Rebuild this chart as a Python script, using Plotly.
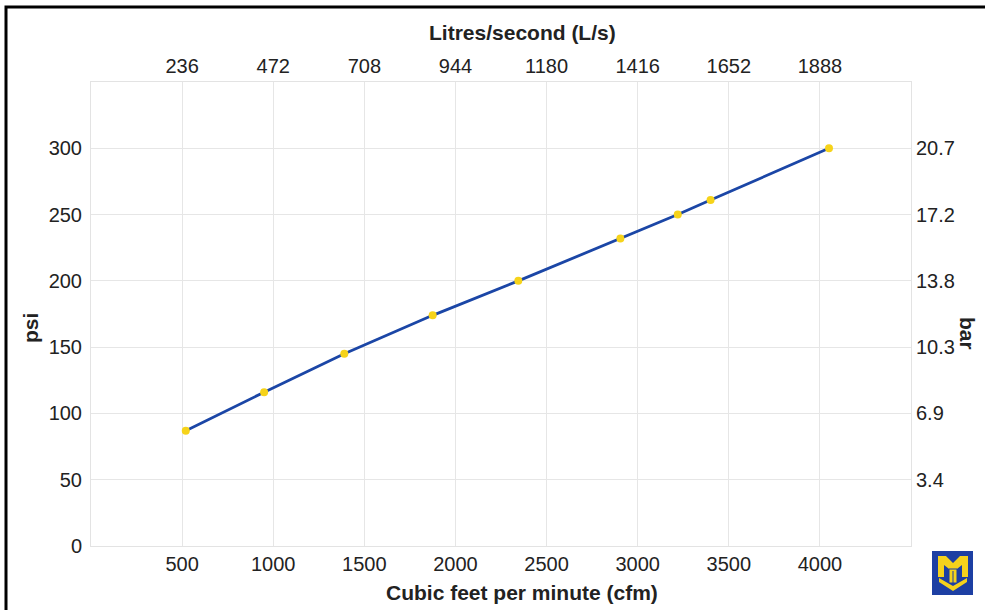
import plotly.graph_objects as go

# Air flow vs. pressure
cfm = [520, 950, 1390, 1875, 2345, 2905, 3220, 3400, 4050]
psi = [87, 116, 145, 174, 200, 232, 250, 261, 300]

# Axis ticks
cfm_ticks = [500, 1000, 1500, 2000, 2500, 3000, 3500, 4000]
ls_labels = ["236", "472", "708", "944", "1180", "1416", "1652", "1888"]
psi_ticks = [0, 50, 100, 150, 200, 250, 300]
bar_ticks = [50, 100, 150, 200, 250, 300]
bar_labels = ["3.4", "6.9", "10.3", "13.8", "17.2", "20.7"]

W, H = 985, 610
L, R, T, B = 91, 911, 82, 546
PW, PH = R - L, B - T

FONT = "Liberation Sans, Arial, sans-serif"
TXT = "#222222"
GRID = "#e6e6e6"


def px(x):
    return (x - L) / PW


def py(y):
    return (B - y) / PH


def path(points):
    return "M " + " L ".join(f"{px(x):.5f},{py(y):.5f}" for x, y in points) + " Z"


fig = go.Figure()
fig.add_trace(go.Scatter(
    x=cfm, y=psi, mode="lines+markers",
    line=dict(color="#1b46a6", width=2.8),
    marker=dict(color="#f6d31a", size=8, line=dict(width=0)),
    hoverinfo="x+y", showlegend=False,
))
# carrier trace so the top and right axes are drawn
fig.add_trace(go.Scatter(
    x=[cfm[0]], y=[psi[0]], xaxis="x2", yaxis="y2", mode="markers",
    marker=dict(opacity=0), hoverinfo="skip", showlegend=False,
))

tick_font = dict(family=FONT, size=20, color=TXT)
axis_common = dict(showline=True, linecolor="#e3e3e3", linewidth=1,
                   ticks="", zeroline=False, tickfont=tick_font)

fig.update_layout(
    width=W, height=H,
    margin=dict(l=L, r=W - R, t=T, b=H - B, pad=0),
    paper_bgcolor="white", plot_bgcolor="white",
    xaxis=dict(range=[0, 4500], tickvals=cfm_ticks, showgrid=True,
               gridcolor=GRID, gridwidth=1, **axis_common),
    xaxis2=dict(range=[0, 4500], overlaying="x", side="top", matches="x",
                tickvals=cfm_ticks, ticktext=ls_labels, showgrid=False,
                **axis_common),
    yaxis=dict(range=[0, 350], tickvals=psi_ticks, showgrid=True,
               gridcolor=GRID, gridwidth=1, ticklabelstandoff=4,
               **axis_common),
    yaxis2=dict(range=[0, 350], overlaying="y", side="right", matches="y",
                tickvals=bar_ticks, ticktext=bar_labels, showgrid=False,
                ticklabelstandoff=0, **axis_common),
)

title_font = dict(family=FONT, size=21, color=TXT)
for text, x, y, ang in [
    ("<b>Litres/second (L/s)</b>", 522, 33, 0),
    ("<b>Cubic feet per minute (cfm)</b>", 522, 592, 0),
    ("<b>psi</b>", 30, 328, -90),
    ("<b>bar</b>", 968, 333, 90),
]:
    fig.add_annotation(text=text, xref="paper", yref="paper", x=px(x), y=py(y),
                       xanchor="center", yanchor="middle", textangle=ang,
                       showarrow=False, font=title_font)

shapes = [
    # outer frame
    dict(type="rect", xref="paper", yref="paper",
         x0=px(6), x1=px(1000), y0=py(7), y1=py(630),
         line=dict(color="black", width=3), fillcolor="rgba(0,0,0,0)"),
    # emblem
    dict(type="rect", xref="paper", yref="paper",
         x0=px(932), x1=px(973), y0=py(551), y1=py(595),
         line=dict(width=0), fillcolor="#1d3fa3"),
    dict(type="path", xref="paper", yref="paper",
         path=path([(938, 556), (946, 556), (953, 563), (960, 556), (968, 556),
                    (968, 577), (962, 577), (962, 565), (953, 572), (944, 565),
                    (944, 577), (938, 577)]),
         line=dict(width=0), fillcolor="#f5d21c"),
    dict(type="path", xref="paper", yref="paper",
         path=path([(939, 578), (953, 586), (967, 578), (967, 582), (953, 591),
                    (939, 582)]),
         line=dict(width=0), fillcolor="#f5d21c"),
    dict(type="rect", xref="paper", yref="paper",
         x0=px(949), x1=px(957), y0=py(569), y1=py(583),
         line=dict(color="#1d3fa3", width=1), fillcolor="#f5d21c"),
    dict(type="line", xref="paper", yref="paper",
         x0=px(953), x1=px(953), y0=py(571), y1=py(583),
         line=dict(color="#1d3fa3", width=1)),
]
fig.update_layout(shapes=shapes)

fig.write_html("out.html")
